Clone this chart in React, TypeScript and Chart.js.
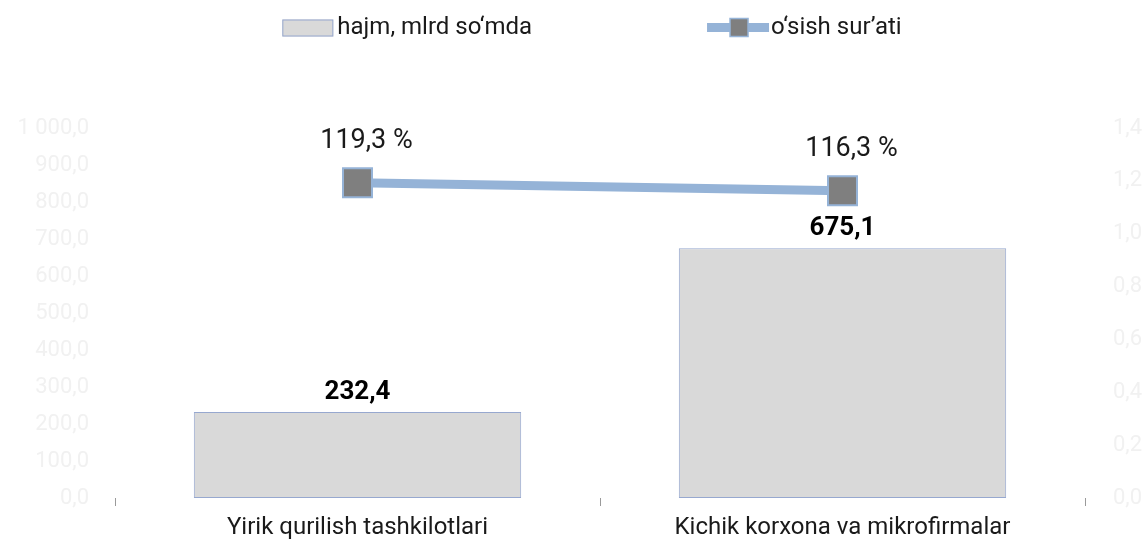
import { useEffect, useRef } from "react";
import { Chart, registerables } from "chart.js";

Chart.register(...registerables);

const categories = ["Yirik qurilish tashkilotlari", "Kichik korxona va mikrofirmalar"];
const volumeValues = [232.4, 675.1];
const volumeLabels = ["232,4", "675,1"];
const growthValues = [1.193, 1.163];
const growthLabels = ["119,3 %", "116,3 %"];
const seriesNames = ["hajm, mlrd so‘mda", "o‘sish sur’ati"];
const leftAxisMax = 1000;
const leftAxisStep = 100;
const rightAxisMax = 1.4;
const rightAxisStep = 0.2;

const FONT = "Roboto";
const BAR_FILL = "#d9d9d9";
const BAR_BORDER = "#97a8cf";
const LINE_COLOR = "#95b3d7";
const MARKER_FILL = "#7f7f7f";
const TEXT = "#1a1a1a";
const FAINT = "#f1f1f1";

function fmtLeft(v: number): string {
  const [i, d] = v.toFixed(1).split(".");
  return i.replace(/\B(?=(\d{3})+(?!\d))/g, " ") + "," + d;
}
function fmtRight(v: number): string {
  return v.toFixed(1).replace(".", ",");
}

const labelsPlugin = {
  id: "valueLabels",
  afterDatasetsDraw(chart: any) {
    const ctx = chart.ctx;
    ctx.save();
    const barMeta = chart.getDatasetMeta(0);
    ctx.fillStyle = "#000";
    ctx.font = `bold 26px ${FONT}`;
    ctx.textAlign = "center";
    ctx.textBaseline = "alphabetic";
    barMeta.data.forEach((el: any, i: number) => {
      ctx.fillText(volumeLabels[i], el.x, el.y - 13);
    });
    const lineMeta = chart.getDatasetMeta(1);
    ctx.fillStyle = TEXT;
    ctx.font = `27px ${FONT}`;
    lineMeta.data.forEach((el: any, i: number) => {
      ctx.fillText(growthLabels[i], el.x + 9, el.y - 35);
    });
    ctx.restore();
  },
};

const legendPlugin = {
  id: "customLegend",
  afterDraw(chart: any) {
    const ctx = chart.ctx;
    const area = chart.chartArea;
    ctx.save();
    ctx.font = `24px ${FONT}`;
    ctx.textBaseline = "middle";
    ctx.textAlign = "left";
    const t1 = ctx.measureText(seriesNames[0]).width;
    const t2 = ctx.measureText(seriesNames[1]).width;
    const w1 = 51 + 4 + t1;
    const w2 = 62 + 2 + t2;
    const gap = 175;
    const total = w1 + gap + w2;
    const cx = (area.left + area.right) / 2 - 8;
    let x = cx - total / 2;
    const y = 28;
    // bar item
    ctx.fillStyle = BAR_FILL;
    ctx.fillRect(x, y - 8.5, 51, 17);
    ctx.strokeStyle = BAR_BORDER;
    ctx.lineWidth = 1;
    ctx.strokeRect(x + 0.5, y - 8, 50, 16);
    ctx.fillStyle = TEXT;
    ctx.fillText(seriesNames[0], x + 55, y);
    // line item
    x = x + w1 + gap;
    ctx.strokeStyle = LINE_COLOR;
    ctx.lineWidth = 9;
    ctx.beginPath();
    ctx.moveTo(x, y - 0.5);
    ctx.lineTo(x + 62, y - 0.5);
    ctx.stroke();
    ctx.fillStyle = MARKER_FILL;
    ctx.fillRect(x + 23, y - 9.5, 18, 18);
    ctx.strokeStyle = LINE_COLOR;
    ctx.lineWidth = 1.5;
    ctx.strokeRect(x + 23, y - 9.5, 18, 18);
    ctx.fillStyle = TEXT;
    ctx.fillText(seriesNames[1], x + 64, y);
    ctx.restore();
  },
};

export default function App() {
  const ref = useRef<HTMLCanvasElement | null>(null);

  useEffect(() => {
    if (!ref.current) return;
    Chart.defaults.font.family = FONT;
    const chart = new Chart(ref.current, {
      type: "bar",
      data: {
        labels: categories,
        datasets: [
          {
            type: "bar",
            label: seriesNames[0],
            data: volumeValues,
            backgroundColor: BAR_FILL,
            borderColor: BAR_BORDER,
            borderWidth: 1,
            borderSkipped: false,
            categoryPercentage: 1,
            barPercentage: 0.675,
            yAxisID: "y",
            order: 2,
          },
          {
            type: "line",
            label: seriesNames[1],
            data: growthValues,
            borderColor: LINE_COLOR,
            borderWidth: 9,
            pointStyle: "rect",
            pointRadius: 20.5,
            pointHoverRadius: 20.5,
            pointBackgroundColor: MARKER_FILL,
            pointBorderColor: LINE_COLOR,
            pointBorderWidth: 2,
            tension: 0,
            yAxisID: "yR",
            order: 1,
          },
        ] as any,
      },
      options: {
        animation: false,
        responsive: false,
        maintainAspectRatio: false,
        layout: { padding: { top: 128, left: 0, right: 0, bottom: 0 } },
        plugins: {
          legend: { display: false },
          tooltip: { enabled: false },
          title: { display: false },
        },
        scales: {
          x: {
            offset: true,
            grid: {
              display: true,
              offset: true,
              drawOnChartArea: false,
              drawTicks: true,
              tickLength: 8,
              color: "#9a9a9a",
              lineWidth: 1,
            },
            border: { display: false },
            ticks: { color: TEXT, font: { size: 24, family: FONT }, padding: 8 },
            afterFit(scale: any) {
              scale.height = 50;
            },
          },
          y: {
            position: "left",
            min: 0,
            max: leftAxisMax,
            grid: { display: false, drawTicks: false },
            border: { display: false },
            ticks: {
              stepSize: leftAxisStep,
              color: FAINT,
              padding: 26,
              font: { size: 22, family: FONT },
              callback: (v: any) => fmtLeft(Number(v)),
            },
            afterFit(scale: any) {
              scale.width = 115;
            },
          },
          yR: {
            position: "right",
            min: 0,
            max: rightAxisMax,
            grid: { display: false, drawTicks: false },
            border: { display: false },
            ticks: {
              stepSize: rightAxisStep,
              color: FAINT,
              padding: 28,
              font: { size: 22, family: FONT },
              callback: (v: any) => fmtRight(Number(v)),
            },
            afterFit(scale: any) {
              scale.width = 59;
            },
          },
        },
      } as any,
      plugins: [labelsPlugin, legendPlugin],
    });
    return () => chart.destroy();
  }, []);

  return (
    <div style={{ position: "absolute", left: 0, top: 0, width: 1144, height: 548, background: "#fff" }}>
      <canvas ref={ref} width={1144} height={548} style={{ display: "block" }} />
    </div>
  );
}
